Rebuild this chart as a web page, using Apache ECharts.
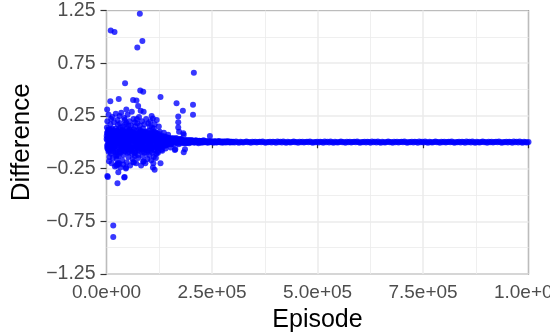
<!DOCTYPE html>
<html>
<head>
<meta charset="utf-8">
<script src="https://cdn.jsdelivr.net/npm/echarts@6.0.0/dist/echarts.min.js"></script>
<style>
    html, body { margin: 0; padding: 0; background: #ffffff; }
    #chart { width: 550px; height: 334px; }
</style>
</head>
<body>
<div id="chart"></div>
<script>
// [episode, difference]
const burnInPoints = [
    [1000, 0.14], [1500, 0.31], [2000, 0.02], [2500, -0.05], [3000, 0.08], [3000, -0.33], [2000, -0.32],
    [4000, 0.05], [4000, -0.02], [5000, -0.09], [5000, 0.11], [6000, -0.18], [6000, 0.04], [7000, 0.01],
    [8000, 0.07], [8000, -0.06], [9000, 0.39], [10000, 1.06], [10000, 0.03], [11000, 0.22], [11000, -0.03],
    [12000, 0.12], [13000, 0.06], [14000, -0.01], [15000, 0.04], [16000, -0.79], [16000, -0.90], [16000, 0.09],
    [17000, -0.04], [18000, 0.01], [19000, 1.045], [19000, 0.06], [20000, -0.08], [21000, 0.03], [22000, 0.13],
    [23000, -0.22], [23000, 0.00], [24000, 0.05], [25000, -0.21], [25000, -0.12], [26000, -0.39], [26000, 0.02],
    [27000, -0.20], [27000, 0.165], [28000, -0.285], [28000, -0.21], [28000, 0.07], [29000, 0.41], [30000, -0.02],
    [30000, -0.20], [31000, 0.25], [32000, 0.04], [33000, -0.10], [34000, 0.08], [35000, 0.01], [36000, -0.05],
    [37000, 0.11], [38000, -0.07], [39000, 0.03], [40000, 0.06], [41000, -0.02], [42000, -0.335], [43000, 0.21],
    [43000, -0.33], [44000, 0.56], [44000, 0.02], [45000, -0.09], [46000, -0.24], [46000, -0.25], [47000, 0.31],
    [47000, 0.186], [48000, 0.04], [49000, -0.04], [50000, 0.09], [51000, 0.00], [52000, 0.16], [53000, -0.06],
    [54000, 0.05], [55000, 0.12], [56000, -0.03], [57000, 0.02], [58000, -0.08], [59000, 0.07], [60000, 0.03],
    [61000, -0.11], [62000, 0.10], [63000, 0.40], [63000, -0.19], [64000, 0.01], [65000, -0.19], [66000, 0.06],
    [67000, 0.19], [67000, -0.13], [68000, 0.03], [69000, -0.04], [70000, 0.08], [71000, 0.395], [72000, 0.22],
    [72000, -0.02], [73000, 0.90], [74000, 0.05], [75000, 0.345], [76000, -0.07], [77000, 0.12], [78000, 0.02],
    [79000, 1.22], [79000, -0.05], [80000, 0.49], [81000, 0.30], [81000, 0.07], [82000, -0.01], [83000, 0.04],
    [84000, -0.09], [85000, 0.96], [85000, 0.10], [86000, 0.00], [87000, 0.48], [87000, -0.185], [88000, 0.29],
    [88000, -0.18], [89000, 0.06], [90000, -0.03], [91000, 0.02], [92000, 0.09], [93000, -0.06], [94000, 0.04],
    [95000, 0.01], [96000, -0.10], [97000, 0.07], [98000, 0.03], [99000, -0.04], [100000, 0.11], [101000, 0.05],
    [102000, -0.02], [103000, 0.15], [104000, 0.00], [105000, 0.06], [106000, -0.08], [107000, 0.25], [108000, 0.03],
    [109000, -0.05], [110000, 0.225], [110000, -0.24], [111000, 0.08], [112000, 0.13], [112000, -0.14], [113000, 0.02],
    [114000, -0.26], [115000, 0.05], [116000, -0.03], [117000, 0.09], [118000, -0.11], [119000, 0.04], [120000, 0.01],
    [121000, -0.06], [122000, 0.07], [123000, 0.02], [124000, -0.04], [125000, 0.05],
    [500, 0.06], [1500, -0.03], [3500, 0.10], [4500, -0.07], [6500, 0.12], [7500, -0.04], [9500, 0.09],
    [10500, -0.11], [12500, 0.00], [13500, 0.13], [15500, -0.06], [17500, 0.10], [19500, -0.02], [21500, 0.08],
    [22500, -0.13], [24500, 0.11], [26500, 0.05], [29500, 0.12], [31500, -0.08], [33500, 0.14], [35500, -0.04],
    [37500, 0.06], [39500, -0.12], [41500, 0.10], [44500, -0.05], [48500, 0.13], [50500, -0.10], [53500, 0.08],
    [56500, 0.11], [59500, -0.05], [61500, 0.05], [64500, 0.12], [68500, -0.08], [70500, 0.01], [74500, -0.12],
    [77500, 0.00], [80500, 0.11], [83500, -0.02], [86500, 0.13], [89500, -0.10], [92500, 0.04], [95500, 0.10],
    [98500, -0.07], [101500, 0.02], [104500, 0.09], [108500, -0.10], [113500, 0.10], [116500, 0.04], [120500, -0.09],
    [123500, 0.08]
];

const burnInCore = [
    [250, 0.03], [1250, 0.09], [2250, -0.06], [3250, 0.04], [4250, 0.12], [5250, -0.01], [6250, 0.07], [7250, -0.08],
    [8250, 0.03], [9250, 0.00], [10250, 0.06], [11250, -0.05], [12250, 0.10], [13250, -0.02], [14250, 0.08], [15250, 0.01],
    [16250, -0.09], [17250, 0.05], [18250, 0.11], [19250, -0.04], [20250, 0.02], [21250, -0.10], [22250, 0.06], [23250, 0.09],
    [24250, -0.03], [25250, 0.04], [26250, -0.07], [27250, 0.10], [28250, 0.00], [29250, -0.05], [30250, 0.07], [31250, 0.02],
    [32250, -0.09], [33250, 0.05], [34250, -0.01], [35250, 0.09], [36250, 0.03], [37250, -0.06], [38250, 0.12], [39250, 0.00],
    [40250, -0.04], [41250, 0.06], [42250, 0.01], [43250, -0.08], [44250, 0.10], [45250, 0.04], [46250, -0.02], [47250, 0.07],
    [48250, -0.06], [49250, 0.02], [50250, 0.11], [51250, -0.03], [52250, 0.05], [53250, -0.09], [54250, 0.08], [55250, 0.00],
    [56250, 0.04], [57250, -0.06], [58250, 0.10], [59250, 0.02], [60250, -0.02], [61250, 0.07], [62250, -0.07], [63250, 0.03],
    [64250, 0.09], [65250, -0.04], [66250, 0.01], [67250, 0.05], [68250, -0.10], [69250, 0.08], [70250, 0.03], [71250, -0.03],
    [72250, 0.11], [73250, -0.06], [74250, 0.02], [75250, 0.06], [76250, -0.01], [77250, 0.09], [78250, -0.08], [79250, 0.04],
    [80250, 0.00], [81250, -0.05], [82250, 0.08], [83250, 0.03], [84250, -0.03], [85250, 0.06], [86250, -0.07], [87250, 0.10],
    [88250, 0.01], [89250, -0.02], [90250, 0.07], [91250, -0.06], [92250, 0.04], [93250, 0.09], [94250, -0.04], [95250, 0.02],
    [96250, 0.06], [97250, -0.08], [98250, 0.05], [99250, 0.00], [100250, 0.08], [101250, -0.05], [102250, 0.03], [103250, 0.07],
    [104250, -0.03], [105250, 0.01], [106250, 0.05], [107250, -0.06], [108250, 0.09], [109250, 0.02], [110250, -0.02], [111250, 0.04],
    [112250, -0.07], [113250, 0.06], [114250, 0.01], [115250, -0.04], [116250, 0.08], [117250, 0.02], [118250, -0.05], [119250, 0.06],
    [120250, 0.03], [121250, -0.03], [122250, 0.05], [123250, 0.00], [124250, 0.04]
];

const burnInSpread = [
    [2000, 0.20], [5000, 0.26], [7000, -0.14], [9000, 0.17], [12000, -0.20], [14000, 0.24], [15000, -0.15], [18000, 0.19],
    [20000, -0.23], [22000, 0.27], [24000, -0.16], [26000, 0.21], [29000, -0.13], [32000, 0.18], [33000, -0.24], [35000, 0.28],
    [37000, -0.17], [39000, 0.15], [40000, -0.21], [42000, 0.23], [45000, 0.17], [48000, -0.19], [50000, 0.26], [52000, -0.14],
    [54000, 0.20], [56000, -0.22], [58000, 0.16], [60000, 0.29], [62000, -0.16], [64000, 0.22], [66000, -0.10], [68000, 0.15],
    [70000, -0.20], [73000, 0.18], [75000, -0.15], [77000, 0.24], [79000, 0.16], [82000, -0.22], [84000, 0.20], [86000, -0.13],
    [90000, 0.17], [92000, -0.20], [94000, 0.22], [97000, -0.16], [99000, 0.18], [101000, -0.12], [104000, 0.20], [106000, -0.17],
    [108000, 0.14], [111000, -0.20], [114000, 0.17], [117000, -0.15], [119000, 0.21], [122000, -0.10], [124000, 0.15],
    [132000, -0.08], [136000, 0.09], [140000, -0.06], [146000, 0.07], [152000, -0.05]
];

const settlingPoints = [
    [126000, 0.10], [127000, 0.02], [128000, 0.43], [128000, -0.20], [129000, -0.03], [130000, -0.07], [131000, 0.05],
    [132000, 0.01], [133000, -0.04], [134000, 0.06], [135000, -0.02], [136000, 0.03], [137000, 0.00], [138000, 0.05],
    [139000, -0.03], [140000, 0.02], [141000, 0.04], [142000, -0.01], [143000, 0.03], [144000, 0.01], [145000, -0.02],
    [146000, 0.04], [147000, 0.00], [148000, 0.02], [149000, -0.01], [150000, 0.03], [152000, 0.01], [154000, -0.02],
    [156000, 0.03], [158000, 0.00], [160000, 0.02], [162000, -0.073], [163000, -0.066], [164000, 0.01], [166000, 0.37],
    [166000, 0.03], [168000, -0.01], [170000, 0.245], [170000, 0.19], [170000, 0.14], [172000, 0.10], [172000, 0.02],
    [174000, 0.00], [176000, 0.03], [178000, -0.01], [180000, 0.02], [181000, 0.30], [182000, 0.085], [183000, 0.07],
    [183000, -0.095], [184000, 0.01], [186000, -0.066], [186000, 0.02], [188000, -0.01], [190000, 0.015], [192000, 0.00],
    [194000, 0.02], [196000, -0.01], [198000, 0.01], [200000, 0.02], [202000, 0.00], [204000, 0.015], [205000, 0.355],
    [205000, 0.26], [207000, 0.66], [208000, -0.005], [210000, 0.01], [212000, 0.02], [214000, 0.00], [216000, 0.01],
    [218000, -0.01], [220000, 0.015], [222000, 0.005], [224000, 0.01], [226000, -0.005], [228000, 0.01], [230000, 0.02],
    [232000, 0.005], [234000, 0.0], [236000, 0.01], [238000, 0.005], [240000, -0.005], [242000, 0.01], [245000, 0.06],
    [245000, 0.0], [248000, 0.01], [251000, 0.005], [254000, -0.005], [257000, 0.01], [260000, 0.0], [263000, 0.005],
    [266000, 0.012], [269000, 0.0], [272000, 0.005], [275000, -0.004], [278000, 0.008], [281000, 0.002], [284000, 0.01],
    [287000, 0.0], [290000, 0.006], [293000, -0.003], [296000, 0.004], [299000, 0.001],
    [126500, 0.04], [127500, -0.05], [128500, 0.06], [129500, 0.01], [130500, 0.03], [131500, -0.04], [132500, 0.05],
    [133500, 0.00], [134500, -0.03], [135500, 0.04], [136500, 0.02], [137500, -0.02], [138500, 0.03], [139500, 0.01],
    [140500, -0.03], [141500, 0.05], [142500, 0.02], [143500, -0.02], [144500, 0.04], [145500, 0.00], [146500, -0.02],
    [147500, 0.03], [148500, 0.01], [149500, 0.04], [151000, -0.01], [153000, 0.03], [155000, 0.00], [157000, 0.04],
    [159000, -0.02], [161000, 0.03], [163000, 0.01], [165000, 0.04], [167000, 0.00], [169000, 0.02], [171000, -0.02],
    [173000, 0.03], [175000, 0.01], [177000, 0.025], [179000, 0.0], [181000, 0.02], [183000, 0.01], [185000, -0.01],
    [187000, 0.02], [189000, 0.005], [191000, 0.02], [193000, -0.005], [195000, 0.01], [197000, 0.02], [199000, 0.0],
    [201000, 0.01], [203000, 0.02], [205000, 0.005], [207000, 0.012], [209000, 0.0], [211000, 0.015], [213000, 0.005],
    [215000, 0.012], [217000, 0.0], [219000, 0.008], [221000, 0.012], [223000, 0.0], [225000, 0.008], [227000, 0.004],
    [229000, 0.01], [231000, 0.0], [233000, 0.008], [235000, 0.003], [237000, 0.006], [239000, 0.0], [241000, 0.007],
    [243000, 0.002], [246500, 0.006], [249500, 0.0], [252500, 0.007], [255500, 0.002], [258500, 0.006], [261500, -0.002],
    [264500, 0.004], [267500, 0.007], [270500, 0.001], [273500, 0.006], [276500, 0.002], [279500, 0.005], [282500, -0.002],
    [285500, 0.004], [288500, 0.006], [291500, 0.001], [294500, 0.005], [297500, -0.001]
];

const convergedPoints = [
    [300000, 0.004], [303500, -0.003], [307000, 0.006], [310500, 0.000], [314000, -0.004], [317500, 0.005], [321000, 0.001], [324500, -0.002],
    [328000, 0.003], [331500, 0.006], [335000, -0.001], [338500, 0.002], [342000, -0.005], [345500, 0.004], [349000, 0.000], [352500, 0.005],
    [356000, -0.003], [359500, 0.002], [363000, 0.005], [366500, -0.001], [370000, 0.006], [373500, 0.001], [377000, -0.004], [380500, 0.003],
    [384000, 0.000], [387500, 0.005], [391000, -0.002], [394500, 0.004], [398000, 0.002], [401500, -0.005], [405000, 0.006], [408500, 0.001],
    [412000, 0.004], [415500, -0.003], [419000, 0.006], [422500, 0.000], [426000, -0.004], [429500, 0.005], [433000, 0.001], [436500, -0.002],
    [440000, 0.003], [443500, 0.006], [447000, -0.001], [450500, 0.002], [454000, -0.005], [457500, 0.004], [461000, 0.000], [464500, 0.005],
    [468000, -0.003], [471500, 0.002], [475000, 0.005], [478500, -0.001], [482000, 0.006], [485500, 0.001], [489000, -0.004], [492500, 0.003],
    [496000, 0.000], [499500, 0.005], [503000, -0.002], [506500, 0.004], [510000, 0.002], [513500, -0.005], [517000, 0.006], [520500, 0.001],
    [524000, 0.004], [527500, -0.003], [531000, 0.006], [534500, 0.000], [538000, -0.004], [541500, 0.005], [545000, 0.001], [548500, -0.002],
    [552000, 0.003], [555500, 0.006], [559000, -0.001], [562500, 0.002], [566000, -0.005], [569500, 0.004], [573000, 0.000], [576500, 0.005],
    [580000, -0.003], [583500, 0.002], [587000, 0.005], [590500, -0.001], [594000, 0.006], [597500, 0.001], [601000, -0.004], [604500, 0.003],
    [608000, 0.000], [611500, 0.005], [615000, -0.002], [618500, 0.004], [622000, 0.002], [625500, -0.005], [629000, 0.006], [632500, 0.001],
    [636000, 0.004], [639500, -0.003], [643000, 0.006], [646500, 0.000], [650000, -0.004], [653500, 0.005], [657000, 0.001], [660500, -0.002],
    [664000, 0.003], [667500, 0.006], [671000, -0.001], [674500, 0.002], [678000, -0.005], [681500, 0.004], [685000, 0.000], [688500, 0.005],
    [692000, -0.003], [695500, 0.002], [699000, 0.005], [702500, -0.001], [706000, 0.006], [709500, 0.001], [713000, -0.004], [716500, 0.003],
    [720000, 0.000], [723500, 0.005], [727000, -0.002], [730500, 0.004], [734000, 0.002], [737500, -0.005], [741000, 0.006], [744500, 0.001],
    [748000, 0.004], [751500, -0.003], [755000, 0.006], [758500, 0.000], [762000, -0.004], [765500, 0.005], [769000, 0.001], [772500, -0.002],
    [776000, 0.003], [779500, 0.006], [783000, -0.001], [786500, 0.002], [790000, -0.005], [793500, 0.004], [797000, 0.000], [800500, 0.005],
    [804000, -0.003], [807500, 0.002], [811000, 0.005], [814500, -0.001], [818000, 0.006], [821500, 0.001], [825000, -0.004], [828500, 0.003],
    [832000, 0.000], [835500, 0.005], [839000, -0.002], [842500, 0.004], [846000, 0.002], [849500, -0.005], [853000, 0.006], [856500, 0.001],
    [860000, 0.004], [863500, -0.003], [867000, 0.006], [870500, 0.000], [874000, -0.004], [877500, 0.005], [881000, 0.001], [884500, -0.002],
    [888000, 0.003], [891500, 0.006], [895000, -0.001], [898500, 0.002], [902000, -0.005], [905500, 0.004], [909000, 0.000], [912500, 0.005],
    [916000, -0.003], [919500, 0.002], [923000, 0.005], [926500, -0.001], [930000, 0.006], [933500, 0.001], [937000, -0.004], [940500, 0.003],
    [944000, 0.000], [947500, 0.005], [951000, -0.002], [954500, 0.004], [958000, 0.002], [961500, -0.005], [965000, 0.006], [968500, 0.001],
    [972000, 0.004], [975500, -0.003], [979000, 0.006], [982500, 0.000], [986000, -0.004], [989500, 0.005], [993000, 0.001], [996500, -0.002],
    [1000000, 0.003]
];

const xTicks = { min: 0, max: 1000000, step: 250000 };
const yTicks = { min: -1.25, max: 1.25, step: 0.5 };

function sciLabel(v) {
    let parts = v.toExponential(1).split('e');
    let ex = parseInt(parts[1], 10);
    return parts[0] + 'e' + (ex < 0 ? '-' : '+') + String(Math.abs(ex)).padStart(2, '0');
}

const chart = echarts.init(document.getElementById('chart'), null, { renderer: 'canvas' });
const font = '"Liberation Sans", Arial, sans-serif';

let option = {
    animation: false,
    backgroundColor: '#ffffff',
    grid: {
        left: 106.5,
        right: 21.5,
        top: 10.5,
        bottom: 60,
        containLabel: false,
        outerBoundsMode: 'none',
        show: true,
        borderColor: '#333333',
        borderWidth: 1.2,
        backgroundColor: 'transparent'
    },
    xAxis: {
        type: 'value',
        min: xTicks.min,
        max: xTicks.max,
        interval: xTicks.step,
        name: 'Episode',
        nameLocation: 'middle',
        nameGap: 34,
        nameTextStyle: { color: '#000000', fontSize: 25, fontFamily: font },
        axisLine: { show: false },
        axisTick: { show: true, length: 6, lineStyle: { color: '#333333', width: 1.2 } },
        axisLabel: {
            color: '#4d4d4d', fontSize: 19, fontFamily: font, margin: 9,
            showMinLabel: true, showMaxLabel: true, hideOverlap: false,
            formatter: sciLabel
        },
        splitLine: { show: true, lineStyle: { color: '#ebebeb', width: 1.5 } },
        minorTick: { show: false, splitNumber: 2 },
        minorSplitLine: { show: true, lineStyle: { color: '#ebebeb', width: 0.8 } }
    },
    yAxis: {
        type: 'value',
        min: yTicks.min,
        max: yTicks.max,
        interval: yTicks.step,
        name: 'Difference',
        nameLocation: 'middle',
        nameRotate: 90,
        nameGap: 66,
        nameTextStyle: { color: '#000000', fontSize: 26, fontFamily: font },
        axisLine: { show: false },
        axisTick: { show: true, length: 6, lineStyle: { color: '#333333', width: 1.2 } },
        axisLabel: {
            color: '#4d4d4d', fontSize: 19.5, fontFamily: font, margin: 11,
            showMinLabel: true, showMaxLabel: true,
            formatter: v => v.toFixed(2).replace('-', '\u2212')
        },
        splitLine: { show: true, lineStyle: { color: '#ebebeb', width: 1.5 } },
        minorTick: { show: false, splitNumber: 2 },
        minorSplitLine: { show: true, lineStyle: { color: '#ebebeb', width: 0.8 } }
    },
    // scatter defaults to opacity 0.8, so put the whole alpha in one place
    series: [burnInPoints, burnInCore, burnInSpread, settlingPoints, convergedPoints].map(pts => ({
        type: 'scatter',
        data: pts,
        symbol: 'circle',
        symbolSize: 6,
        itemStyle: { color: '#0000ff', opacity: 0.78 },
        emphasis: { disabled: true }
    }))
};

chart.setOption(option);
</script>
</body>
</html>
